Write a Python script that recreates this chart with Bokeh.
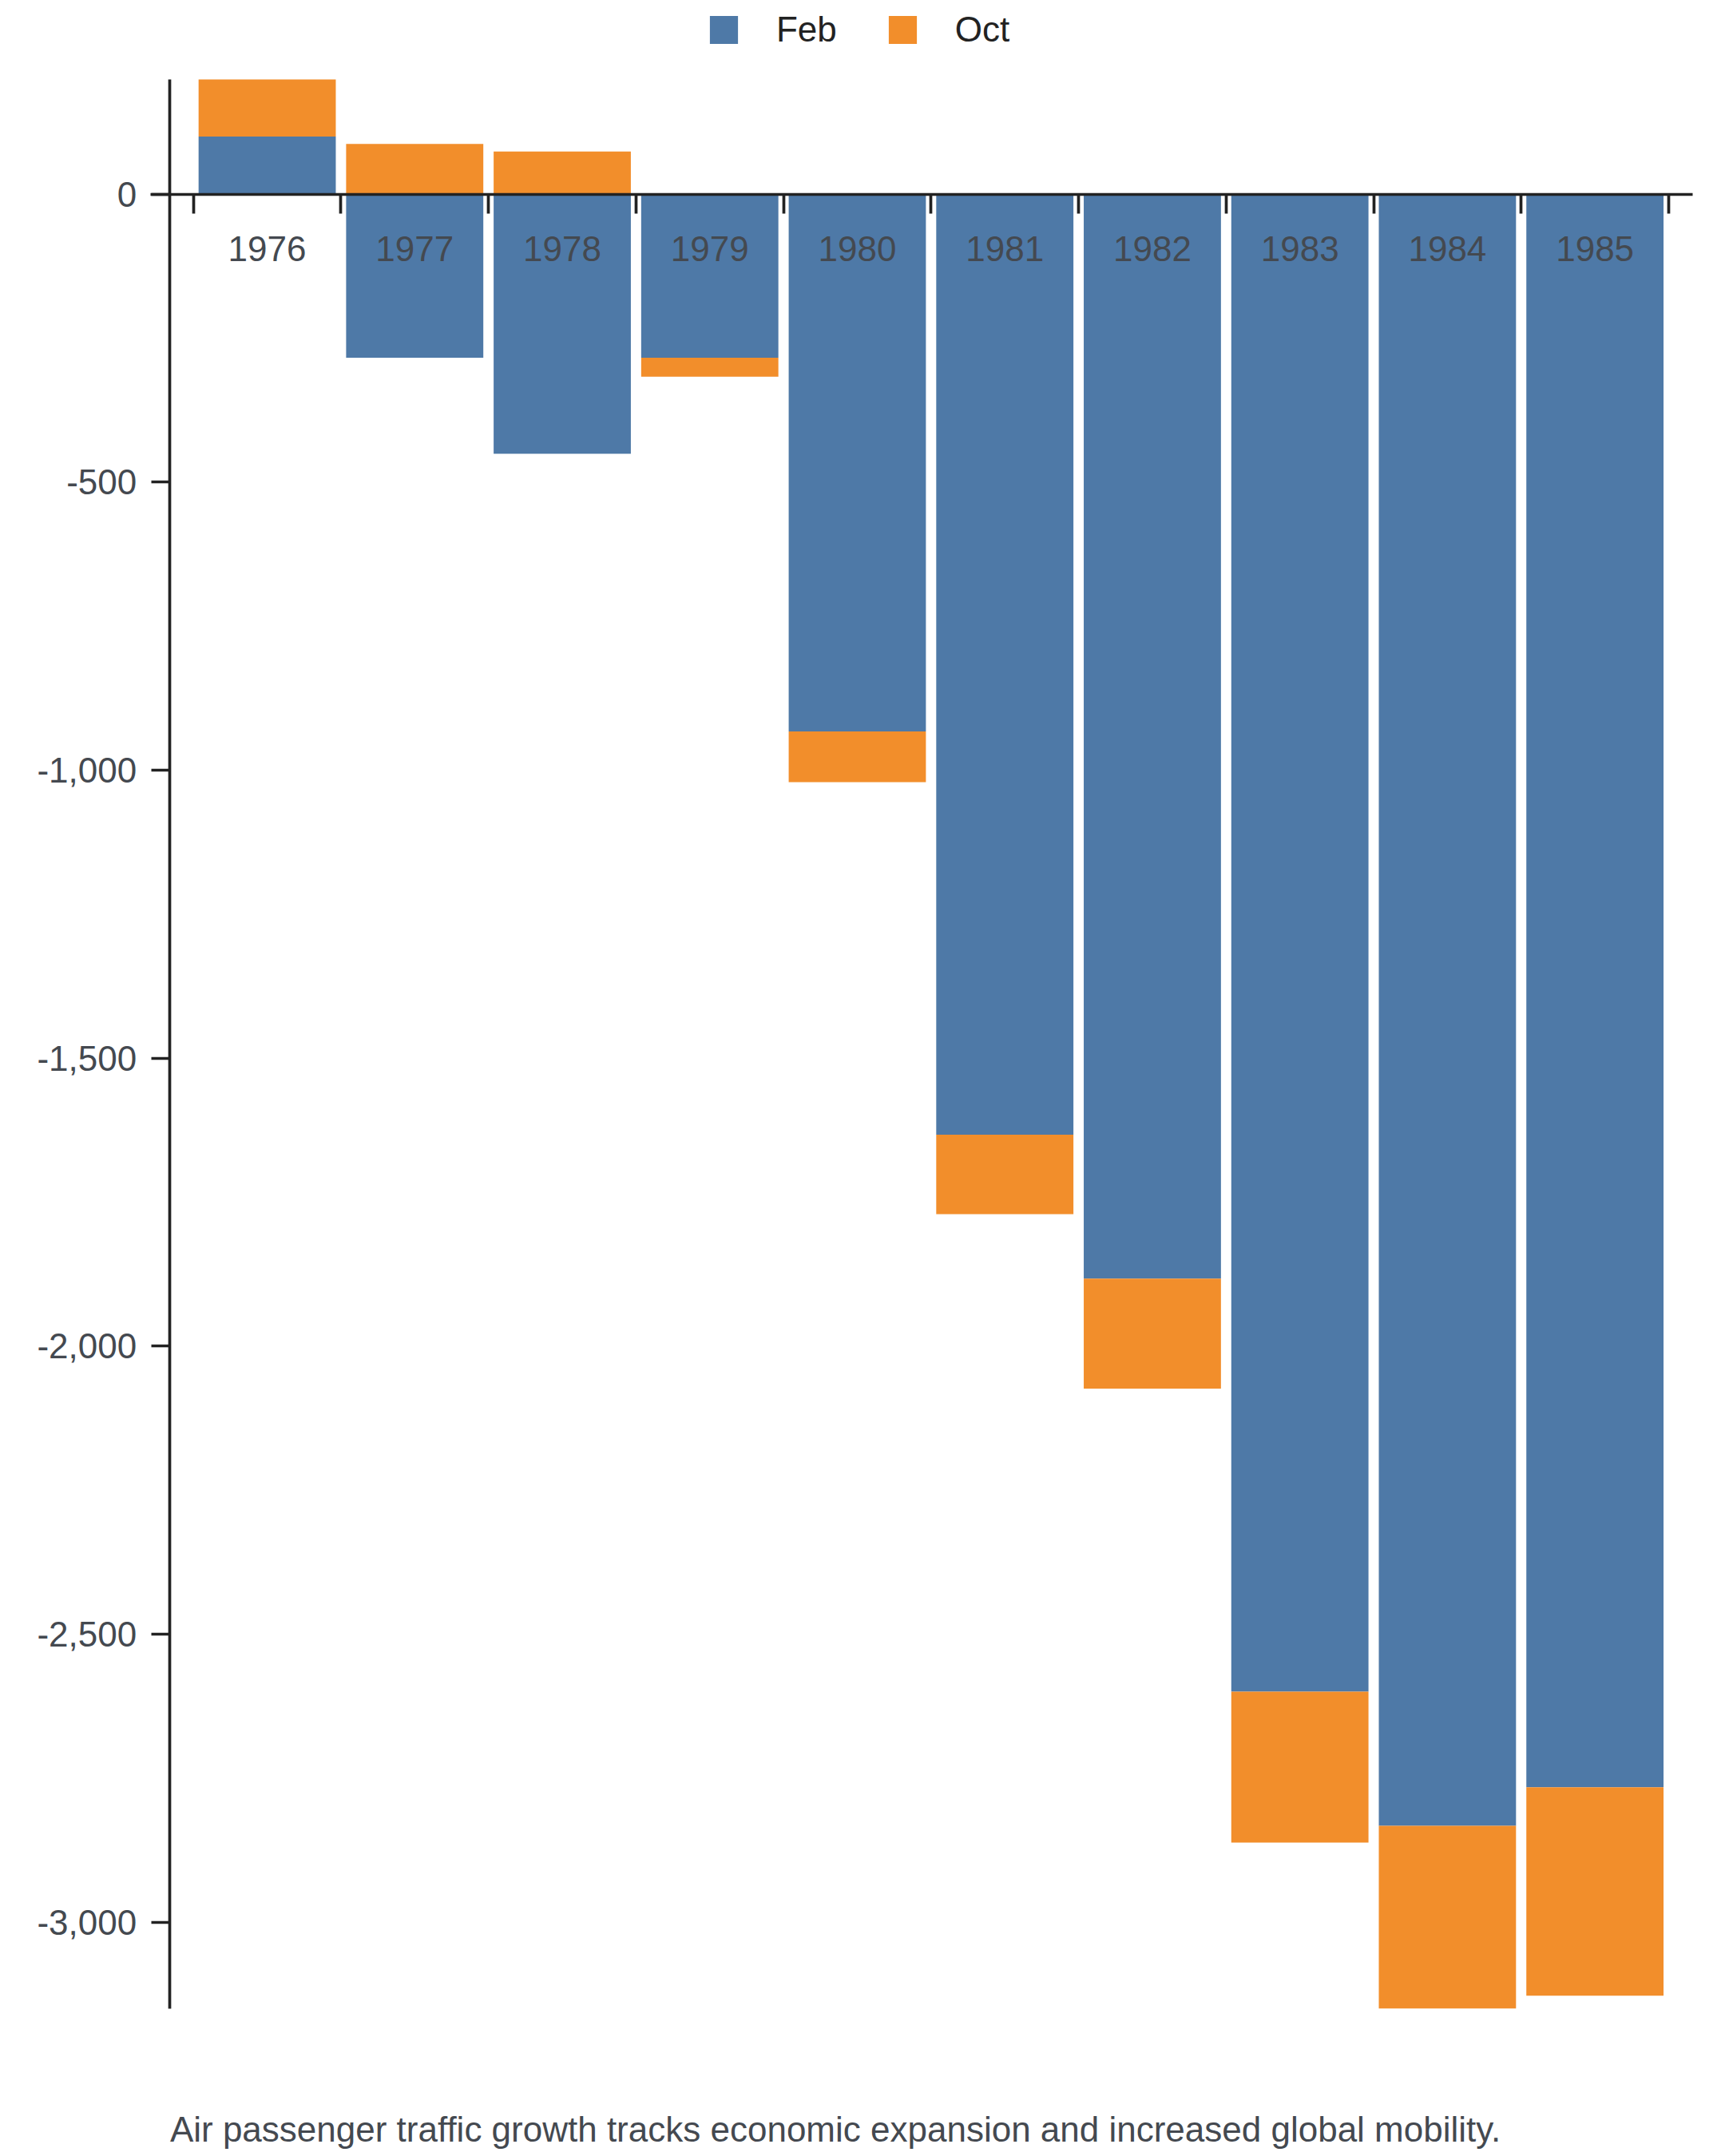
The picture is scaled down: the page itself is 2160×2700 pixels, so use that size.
import numpy as np
from bokeh.plotting import figure
from bokeh.models import Range1d, FixedTicker, NumeralTickFormatter, Legend, LegendItem, Label
from bokeh.embed import file_html
from bokeh.resources import INLINE

# ---- data ----
years = ["1976", "1977", "1978", "1979", "1980", "1981", "1982", "1983", "1984", "1985"]
feb = [100, -284, -451, -284, -933, -1633, -1883, -2600, -2833, -2766]
oct_ = [99, 87, 74, -33, -88, -138, -191, -262, -317, -362]
y_ticks = [0, -500, -1000, -1500, -2000, -2500, -3000]
caption = "Air passenger traffic growth tracks economic expansion and increased global mobility."

# ---- stacking (positives and negatives stacked separately) ----
xs = np.arange(len(years), dtype=float)
feb_a = np.array(feb, dtype=float)
oct_a = np.array(oct_, dtype=float)
oct_base = np.where(oct_a >= 0, np.maximum(feb_a, 0), np.minimum(feb_a, 0))
oct_top = oct_base + oct_a
pos_tot = np.maximum(feb_a, 0) + np.maximum(oct_a, 0)
neg_tot = np.minimum(feb_a, 0) + np.minimum(oct_a, 0)
y_lo = float(neg_tot.min())
y_hi = float(pos_tot.max())

FONT = "Liberation Sans"
BLUE = "#4e79a7"
ORANGE = "#f28e2b"
AXIS = "#222222"
LABEL = "#444950"

# ---- layout (pixel geometry; the frame covers the whole canvas) ----
W, H = 2150, 2696
OFF = 1.0                      # page offset of the canvas
band = 184.73                  # px per category
first_edge = 242.7             # page x of the first band edge
plot_top, plot_bottom = 100.0, 2515.7
k = (plot_bottom - plot_top) / (y_hi - y_lo)   # px per unit
zero_y = plot_top + y_hi * k

def px_to_x(px):
    return -0.5 + (px - first_edge) / band

def py_to_y(py):
    return (zero_y - py) / k

x_range = Range1d(px_to_x(OFF), px_to_x(OFF + W))
y_range = Range1d(py_to_y(OFF + H), py_to_y(OFF))

p = figure(width=W, height=H, output_backend="svg", toolbar_location=None,
           x_range=x_range, y_range=y_range,
           min_border=0, min_border_left=0, min_border_right=0,
           min_border_top=0, min_border_bottom=0)
p.outline_line_color = None
p.xgrid.visible = False
p.ygrid.visible = False
p.background_fill_color = "white"
p.border_fill_color = "white"

r_feb = p.vbar(x=xs, bottom=0, top=feb_a, width=0.93, fill_color=BLUE, line_color=None)
r_oct = p.vbar(x=xs, bottom=oct_base, top=oct_top, width=0.93, fill_color=ORANGE, line_color=None)

# x axis at y = 0: labels at centres, tick marks at band boundaries
xa = p.xaxis[0]
xa.fixed_location = 0
xa.bounds = (px_to_x(189.0), px_to_x(2120.0))
xa.ticker = FixedTicker(ticks=list(xs), minor_ticks=[i - 0.5 for i in range(len(years) + 1)])
xa.major_label_overrides = {float(i): y for i, y in enumerate(years)}
xa.major_tick_line_color = None
xa.major_tick_in = 0
xa.major_tick_out = 0
xa.minor_tick_in = 0
xa.minor_tick_out = 24
xa.minor_tick_line_width = 3.7
xa.minor_tick_line_color = AXIS
xa.axis_line_width = 3.7
xa.axis_line_color = AXIS
xa.major_label_standoff = 29
xa.major_label_text_font = FONT
xa.major_label_text_font_size = "44px"
xa.major_label_text_color = LABEL

ya = p.yaxis[0]
ya.fixed_location = px_to_x(212.7)
ya.bounds = (y_lo, y_hi)
ya.ticker = FixedTicker(ticks=y_ticks, minor_ticks=[])
ya.formatter = NumeralTickFormatter(format="0,0")
ya.major_tick_in = 0
ya.major_tick_out = 23
ya.major_tick_line_width = 3.7
ya.major_tick_line_color = AXIS
ya.minor_tick_line_color = None
ya.axis_line_width = 3.7
ya.axis_line_color = AXIS
ya.major_label_standoff = 18
ya.major_label_text_font = FONT
ya.major_label_text_font_size = "44px"
ya.major_label_text_color = LABEL

# legend: area glyphs are drawn inset by 10%, so the glyph box is ~35 / 0.8
gbox = 44
inset = 0.1 * gbox
legend_top = 23.0 - inset - OFF
legend_h = gbox
legend = Legend(items=[LegendItem(label="Feb", renderers=[r_feb]),
                       LegendItem(label="Oct", renderers=[r_oct])],
                orientation="horizontal",
                location=(889.3 - inset - OFF, H - legend_top - legend_h),
                glyph_width=gbox, glyph_height=gbox, label_standoff=44, spacing=60,
                padding=0, margin=0, border_line_color=None, background_fill_alpha=0,
                label_text_font=FONT, label_text_font_size="44px", label_text_color=AXIS)
p.add_layout(legend)

p.add_layout(Label(x=213.4 - OFF, y=H - (2680.0 - OFF) + 13, x_units="screen", y_units="screen",
                   text=caption, text_font=FONT, text_font_size="44px", text_color=LABEL,
                   text_baseline="alphabetic", text_align="left"))

open("out.html", "w").write(file_html(p, INLINE))
